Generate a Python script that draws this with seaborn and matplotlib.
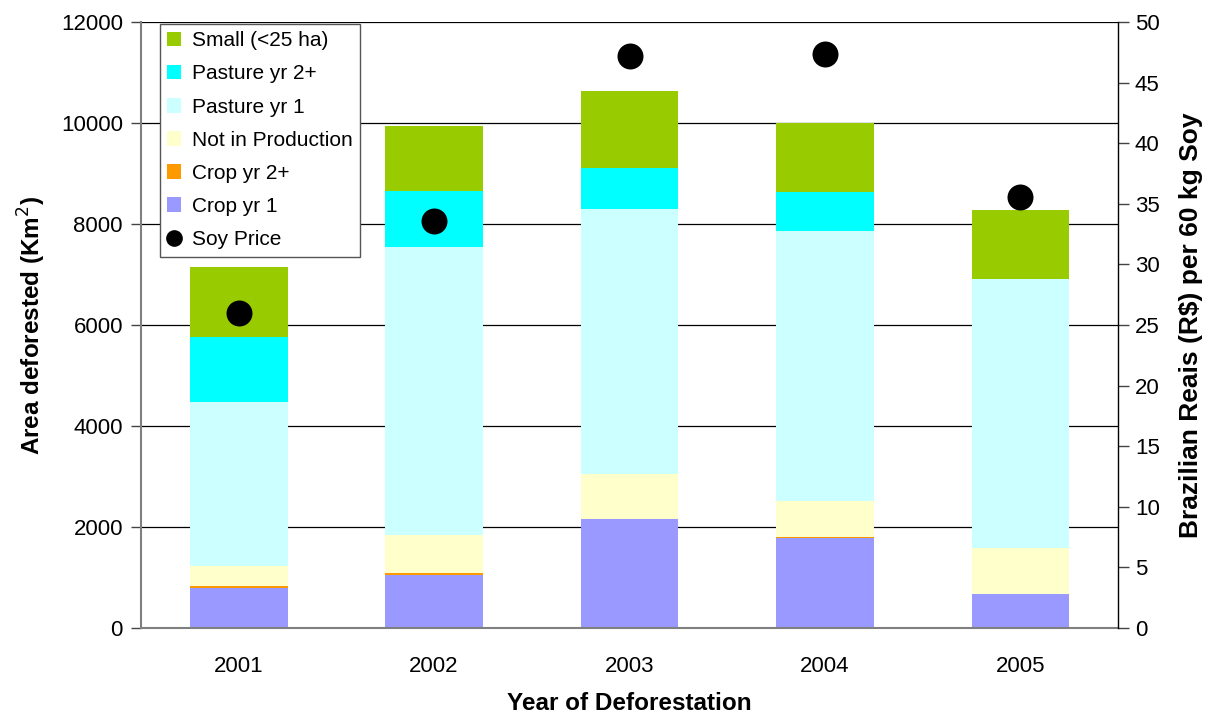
import numpy as np
import matplotlib
matplotlib.use("Agg")
import matplotlib.pyplot as plt
from matplotlib.patches import Patch
from matplotlib.lines import Line2D
import seaborn as sns

# ── data ─────────────────────────────────────────────────────────────────────
years = ["2001", "2002", "2003", "2004", "2005"]
crop_yr1 = [800, 1040, 2150, 1790, 670]
crop_yr2 = [30, 40, 0, 15, 0]
not_in_prod = [400, 760, 910, 710, 910]
pasture_yr1 = [3250, 5700, 5230, 5340, 5330]
pasture_yr2 = [1290, 1110, 830, 790, 0]
small = [1370, 1290, 1520, 1350, 1370]
soy_price = [26.0, 33.6, 47.2, 47.4, 35.6]

layers = [
    ("Crop yr 1", crop_yr1, "#9999FF"),
    ("Crop yr 2+", crop_yr2, "#FF9900"),
    ("Not in Production", not_in_prod, "#FFFFCC"),
    ("Pasture yr 1", pasture_yr1, "#CCFFFF"),
    ("Pasture yr 2+", pasture_yr2, "#00FFFF"),
    ("Small (<25 ha)", small, "#99CC00"),
]

# ── plot ─────────────────────────────────────────────────────────────────────
sns.set_style("white")
plt.rcParams["font.family"] = ["Liberation Sans", "DejaVu Sans"]
plt.rcParams.update({"text.color": "black", "axes.labelcolor": "black",
                     "xtick.color": "black", "ytick.color": "black"})

fig = plt.figure(figsize=(12.14, 7.13), dpi=100)
ax = fig.add_axes([0.1161, 0.1192, 0.8049, 0.8498])

bottom = np.zeros(len(years))
for name, vals, col in layers:
    sns.barplot(x=years, y=vals, bottom=bottom, color=col, width=0.5,
                linewidth=0, saturation=1, ax=ax, zorder=2)
    bottom += np.array(vals)

ax.set_ylim(0, 12000)
ax.set_xlim(-0.5, len(years) - 0.5)
ax.set_yticks(np.arange(0, 12001, 2000))
ax.yaxis.grid(True, color="black", linewidth=0.9, zorder=0)
ax.set_axisbelow(True)

# category ticks at boundaries, labels at centres
ax.set_xticks(np.arange(-0.5, len(years), 1.0))
ax.set_xticklabels([])
ax.set_xticks(np.arange(len(years)), minor=True)
ax.set_xticklabels(years, minor=True)
ax.tick_params(axis="x", which="major", direction="out", length=7, width=1, color="#444444")
ax.tick_params(axis="x", which="minor", length=0, labelsize=16, pad=20)
ax.tick_params(axis="y", direction="out", length=7, width=1, color="#444444",
               labelsize=16, pad=6)

for s in ["left", "bottom"]:
    ax.spines[s].set_color("#808080")
    ax.spines[s].set_linewidth(1.5)
ax.spines["top"].set_visible(False)
ax.spines["right"].set_visible(False)

ax.set_xlabel("Year of Deforestation", fontsize=17.5, fontweight="bold", labelpad=11)
ax.set_ylabel("Area deforested (Km$^2$)", fontsize=17.5, fontweight="bold", labelpad=9)

# soy price on secondary axis
ax2 = ax.twinx()
sns.scatterplot(x=np.arange(len(years)), y=soy_price, s=300, color="black",
                edgecolor="black", ax=ax2, zorder=5)
ax2.set_ylim(0, 50)
ax2.set_yticks(np.arange(0, 51, 5))
ax2.tick_params(axis="y", direction="out", length=8, width=1, color="#444444",
                labelsize=16, pad=4)
ax2.spines["top"].set_visible(False)
ax2.spines["left"].set_visible(False)
ax2.spines["bottom"].set_visible(False)
ax2.spines["right"].set_color("black")
ax2.spines["right"].set_linewidth(1)
ax2.set_ylabel("Brazilian Reais (R\\$) per 60 kg Soy", fontsize=19, fontweight="bold", labelpad=14)

# legend
handles = [Patch(facecolor=col, edgecolor="none", label=name) for name, _, col in layers[::-1]]
handles.append(Line2D([0], [0], marker="o", color="none", markerfacecolor="black",
                      markeredgecolor="black", markersize=11, label="Soy Price"))
leg = ax2.legend(handles=handles, loc="upper left", bbox_to_anchor=(0.019, 0.997),
                 fontsize=15, frameon=True, fancybox=False, handlelength=0.7,
                 handleheight=0.7, handletextpad=0.5, labelspacing=0.68,
                 borderpad=0.35, borderaxespad=0)
leg.get_frame().set_edgecolor("#555555")
leg.get_frame().set_linewidth(1)
leg.get_frame().set_alpha(1)

fig.savefig("out.png", dpi=100)
